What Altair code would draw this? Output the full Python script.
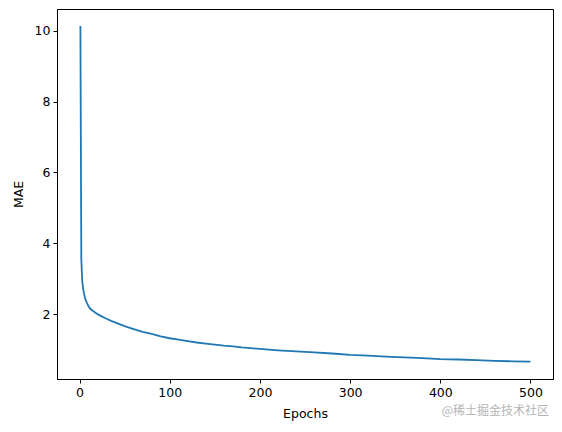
import altair as alt
import pandas as pd

epochs = [1, 2, 3, 4, 5, 6, 7, 8, 10, 12, 15, 20, 25, 30, 35, 40, 50, 60, 70, 80, 90,
          100, 110, 120, 130, 140, 150, 160, 170, 180, 190, 200, 220, 240, 260, 280,
          300, 320, 340, 360, 380, 400, 420, 440, 460, 480, 500]
mae = [10.13, 3.55, 2.95, 2.72, 2.58, 2.47, 2.39, 2.33, 2.22, 2.15, 2.09, 2.00, 1.93,
       1.87, 1.81, 1.76, 1.66, 1.58, 1.50, 1.44, 1.37, 1.32, 1.28, 1.24, 1.20, 1.17,
       1.14, 1.11, 1.09, 1.06, 1.04, 1.02, 0.98, 0.95, 0.92, 0.89, 0.85, 0.83, 0.80,
       0.78, 0.76, 0.73, 0.72, 0.70, 0.68, 0.67, 0.66]
x_ticks = [0, 100, 200, 300, 400, 500]
y_ticks = [2, 4, 6, 8, 10]
watermark = "@稀土掘金技术社区"

df = pd.DataFrame({"Epochs": epochs, "MAE": mae})

line = alt.Chart(df).mark_line(color="#1f77b4", strokeWidth=1.8).encode(
    x=alt.X("Epochs:Q", scale=alt.Scale(domain=[-24.95, 524.95], nice=False, zero=False),
            axis=alt.Axis(values=x_ticks, title="Epochs", format="d")),
    y=alt.Y("MAE:Q", scale=alt.Scale(domain=[0.17, 10.61], nice=False, zero=False),
            axis=alt.Axis(values=y_ticks, title="MAE", format="d")),
)

wm = alt.Chart(pd.DataFrame({"t": [watermark]})).mark_text(
    align="right", baseline="middle", fontSize=12, color="#b4b4b4",
    font="Noto Sans CJK SC"
).encode(x=alt.value(492), y=alt.value(402), text="t:N")

chart = alt.layer(line, wm).properties(
    width=496, height=370,
    autosize=alt.AutoSizeParams(type="none"),
    padding={"left": 49, "top": 1, "right": 1, "bottom": 45},
).configure_view(stroke="black", strokeWidth=1).configure_axis(
    grid=False, domainColor="black", tickColor="black", labelColor="black",
    titleColor="black", labelFont="DejaVu Sans", titleFont="DejaVu Sans",
    labelFontSize=12.5, titleFontSize=12.5, titleFontWeight="normal",
    tickSize=4, labelPadding=3, domain=True,
).configure_axisY(titlePadding=9).configure_axisX(titlePadding=9)

chart.save("out.html", embed_options={"renderer": "svg", "actions": False})
